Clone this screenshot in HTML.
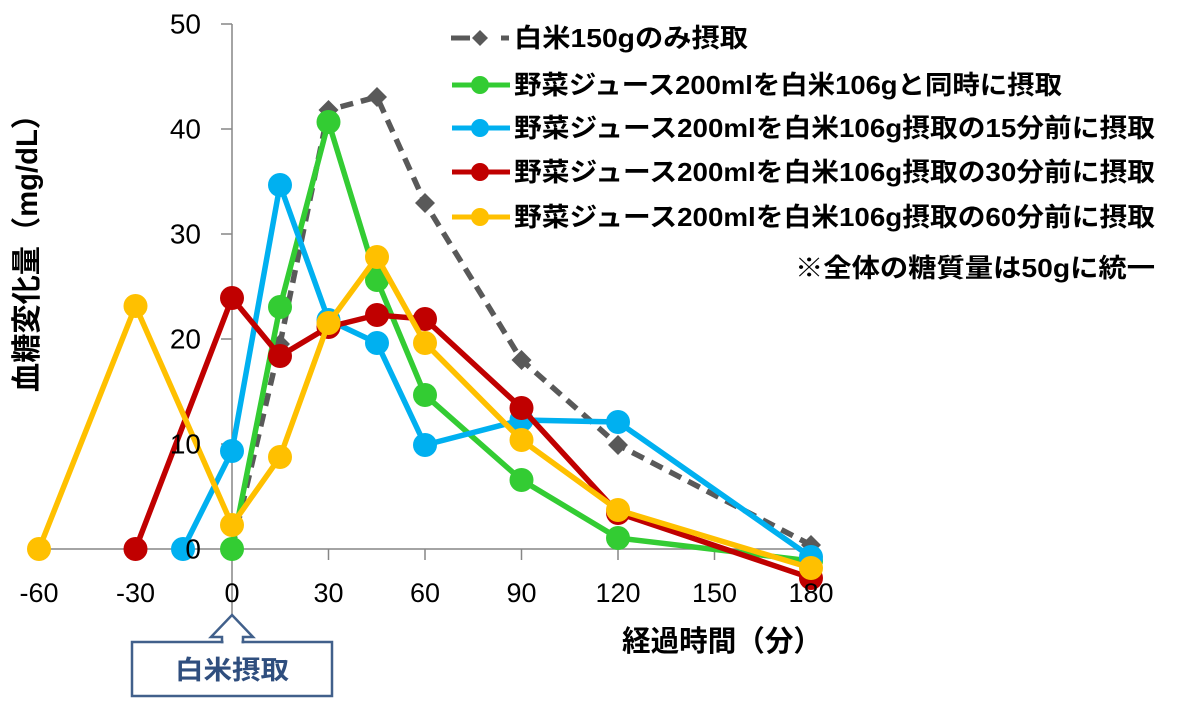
<!DOCTYPE html>
<html><head><meta charset="utf-8"><style>
html,body{margin:0;padding:0;background:#fff;}
svg{display:block;}
.t{font-family:"Liberation Sans","Noto Sans CJK JP",sans-serif;}
.j{font-family:"Liberation Sans","Noto Sans CJK JP",sans-serif;font-weight:bold;}
</style></head><body>
<svg width="1178" height="701" viewBox="0 0 1178 701" xmlns="http://www.w3.org/2000/svg">
<rect width="1178" height="701" fill="#fff"/>
<!-- axes -->
<g stroke="#868686" stroke-width="1.5" fill="none">
<line x1="232" y1="24" x2="232" y2="614"/>
<line x1="39" y1="549" x2="811" y2="549"/>
<line x1="221" y1="24" x2="232" y2="24"/>
<line x1="221" y1="129" x2="232" y2="129"/>
<line x1="221" y1="234" x2="232" y2="234"/>
<line x1="221" y1="339" x2="232" y2="339"/>
<line x1="221" y1="444" x2="232" y2="444"/>
<line x1="221" y1="549" x2="232" y2="549"/>
<line x1="39" y1="549" x2="39" y2="560"/>
<line x1="135.5" y1="549" x2="135.5" y2="560"/>
<line x1="328.5" y1="549" x2="328.5" y2="560"/>
<line x1="425" y1="549" x2="425" y2="560"/>
<line x1="521.5" y1="549" x2="521.5" y2="560"/>
<line x1="618" y1="549" x2="618" y2="560"/>
<line x1="714.5" y1="549" x2="714.5" y2="560"/>
<line x1="811" y1="549" x2="811" y2="560"/>
</g>
<!-- gray dashed -->
<polyline points="232,549 280,344 328.5,110 377,97 425,203 521.5,360 618,445 811,545" fill="none" stroke="#595959" stroke-width="5.5" stroke-dasharray="13,8" stroke-linejoin="round"/>
<g fill="#595959">
<polygon points="280,334 290,344 280,354 270,344"/>
<polygon points="328.5,100 338.5,110 328.5,120 318.5,110"/>
<polygon points="377,87 387,97 377,107 367,97"/>
<polygon points="425,193 435,203 425,213 415,203"/>
<polygon points="521.5,350 531.5,360 521.5,370 511.5,360"/>
<polygon points="618,435 628,445 618,455 608,445"/>
<polygon points="811,535 821,545 811,555 801,545"/>
</g>
<!-- green -->
<polyline points="232,549 280,307 328.5,122 377,280 425,395 521.5,480 618,538 811,561" fill="none" stroke="#33CC33" stroke-width="5.5" stroke-linejoin="round"/>
<g fill="#33CC33">
<circle cx="232" cy="549" r="12"/><circle cx="280" cy="307" r="12"/><circle cx="328.5" cy="122" r="12"/><circle cx="377" cy="280" r="12"/><circle cx="425" cy="395" r="12"/><circle cx="521.5" cy="480" r="12"/><circle cx="618" cy="538" r="12"/><circle cx="811" cy="561" r="12"/>
</g>
<!-- blue -->
<polyline points="183,549 232,451 280,185 328.5,320 377,343 425,445 521.5,420 618,422 811,557" fill="none" stroke="#00B0F0" stroke-width="5.5" stroke-linejoin="round"/>
<g fill="#00B0F0">
<circle cx="183" cy="549" r="12"/><circle cx="232" cy="451" r="12"/><circle cx="280" cy="185" r="12"/><circle cx="328.5" cy="320" r="12"/><circle cx="377" cy="343" r="12"/><circle cx="425" cy="445" r="12"/><circle cx="521.5" cy="420" r="12"/><circle cx="618" cy="422" r="12"/><circle cx="811" cy="557" r="12"/>
</g>
<!-- red -->
<polyline points="135.5,549 232,298 280,356 328.5,327 377,315 425,319 521.5,408 618,513 811,578" fill="none" stroke="#C00000" stroke-width="5.5" stroke-linejoin="round"/>
<g fill="#C00000">
<circle cx="135.5" cy="549" r="12"/><circle cx="232" cy="298" r="12"/><circle cx="280" cy="356" r="12"/><circle cx="328.5" cy="327" r="12"/><circle cx="377" cy="315" r="12"/><circle cx="425" cy="319" r="12"/><circle cx="521.5" cy="408" r="12"/><circle cx="618" cy="513" r="12"/><circle cx="811" cy="578" r="12"/>
</g>
<!-- yellow -->
<polyline points="39,549 135.5,306 232,525 280,457 328.5,323 377,257 425,343 521.5,440 618,510 811,568" fill="none" stroke="#FFC000" stroke-width="5.5" stroke-linejoin="round"/>
<g fill="#FFC000">
<circle cx="39" cy="549" r="12"/><circle cx="135.5" cy="306" r="12"/><circle cx="232" cy="525" r="12"/><circle cx="280" cy="457" r="12"/><circle cx="328.5" cy="323" r="12"/><circle cx="377" cy="257" r="12"/><circle cx="425" cy="343" r="12"/><circle cx="521.5" cy="440" r="12"/><circle cx="618" cy="510" r="12"/><circle cx="811" cy="568" r="12"/>
</g>
<!-- y tick labels -->
<g class="t" font-size="28" fill="#000" text-anchor="end">
<text x="201" y="33.5">50</text>
<text x="201" y="138.5">40</text>
<text x="201" y="243.5">30</text>
<text x="201" y="348.5">20</text>
<text x="201" y="453.5">10</text>
<text x="201" y="558.5">0</text>
</g>
<!-- x tick labels -->
<g class="t" font-size="27" fill="#000" text-anchor="middle">
<text x="39" y="602">-60</text>
<text x="135.5" y="602">-30</text>
<text x="232" y="602">0</text>
<text x="328.5" y="602">30</text>
<text x="425" y="602">60</text>
<text x="521.5" y="602">90</text>
<text x="618" y="602">120</text>
<text x="714.5" y="602">150</text>
<text x="811" y="602">180</text>
</g>
<!-- axis titles -->
<text class="j" font-size="30" x="0" y="0" transform="translate(37,246) rotate(-90)" text-anchor="middle" textLength="292" lengthAdjust="spacingAndGlyphs">血糖変化量（mg/dL）</text>
<text class="j" font-size="29" x="622" y="651" textLength="200" lengthAdjust="spacingAndGlyphs">経過時間（分）</text>
<!-- legend -->
<g>
<line x1="451" y1="38" x2="470" y2="38" stroke="#595959" stroke-width="5"/>
<polygon points="480,30 488,38 480,46 472,38" fill="#595959"/>
<line x1="501" y1="38" x2="509" y2="38" stroke="#595959" stroke-width="5"/>
<line x1="452" y1="85" x2="510" y2="85" stroke="#33CC33" stroke-width="5"/><circle cx="480" cy="85" r="9" fill="#33CC33"/>
<line x1="452" y1="128" x2="510" y2="128" stroke="#00B0F0" stroke-width="5"/><circle cx="480" cy="128" r="9" fill="#00B0F0"/>
<line x1="452" y1="172" x2="510" y2="172" stroke="#C00000" stroke-width="5"/><circle cx="480" cy="172" r="9" fill="#C00000"/>
<line x1="452" y1="217" x2="510" y2="217" stroke="#FFC000" stroke-width="5"/><circle cx="480" cy="217" r="9" fill="#FFC000"/>
</g>
<g class="j" font-size="26" fill="#000">
<text x="514" y="47" textLength="234" lengthAdjust="spacingAndGlyphs">白米150gのみ摂取</text>
<text x="514" y="94" textLength="548" lengthAdjust="spacingAndGlyphs">野菜ジュース200mlを白米106gと同時に摂取</text>
<text x="514" y="137" textLength="641" lengthAdjust="spacingAndGlyphs">野菜ジュース200mlを白米106g摂取の15分前に摂取</text>
<text x="514" y="181" textLength="641" lengthAdjust="spacingAndGlyphs">野菜ジュース200mlを白米106g摂取の30分前に摂取</text>
<text x="514" y="226" textLength="641" lengthAdjust="spacingAndGlyphs">野菜ジュース200mlを白米106g摂取の60分前に摂取</text>
<text x="795" y="277" textLength="360" lengthAdjust="spacingAndGlyphs">※全体の糖質量は50gに統一</text>
</g>
<!-- annotation box -->
<rect x="132" y="642" width="200" height="54" fill="#fff" stroke="#41608B" stroke-width="2.5"/>
<polygon points="232,615 253,637 243,637 243,642 222,642 222,637 211,637" fill="#fff" stroke="#41608B" stroke-width="2.5" stroke-linejoin="miter"/>
<line x1="223.5" y1="642" x2="241.5" y2="642" stroke="#fff" stroke-width="3"/>
<text class="j" font-size="26" fill="#2F4E7E" x="175" y="679" textLength="114" lengthAdjust="spacingAndGlyphs">白米摂取</text>
</svg>
</body></html>
